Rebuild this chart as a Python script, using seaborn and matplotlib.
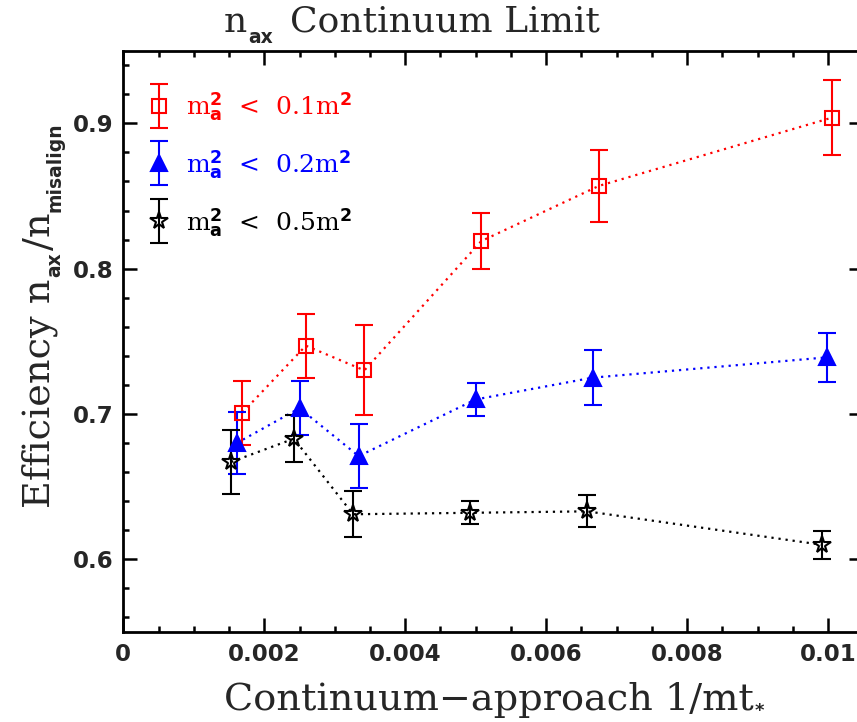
import matplotlib
matplotlib.use("Agg")
import matplotlib.pyplot as plt
from matplotlib.container import ErrorbarContainer
from matplotlib.legend_handler import HandlerErrorbar
from matplotlib.ticker import MultipleLocator, FuncFormatter
import pandas as pd
import seaborn as sns

# Efficiency vs continuum-approach parameter for three axion-mass cuts
x_01 = [0.00169, 0.00259, 0.00342, 0.00508, 0.00675, 0.01006]
y_01 = [0.701, 0.747, 0.730, 0.819, 0.857, 0.904]
e_01 = [0.022, 0.022, 0.031, 0.019, 0.025, 0.0255]

x_02 = [0.00161, 0.00250, 0.00334, 0.00500, 0.00666, 0.00999]
y_02 = [0.680, 0.704, 0.671, 0.710, 0.725, 0.739]
e_02 = [0.0216, 0.0184, 0.022, 0.0115, 0.019, 0.0168]

x_05 = [0.00153, 0.00242, 0.00326, 0.00492, 0.00658, 0.00991]
y_05 = [0.667, 0.683, 0.631, 0.632, 0.633, 0.610]
e_05 = [0.022, 0.016, 0.0157, 0.008, 0.011, 0.0098]

labels = [r"m$^\mathsf{2}_\mathsf{a}$  <  0.1m$^\mathsf{2}$",
          r"m$^\mathsf{2}_\mathsf{a}$  <  0.2m$^\mathsf{2}$",
          r"m$^\mathsf{2}_\mathsf{a}$  <  0.5m$^\mathsf{2}$"]
colors = ["#ff0000", "#0000ff", "#000000"]
markers = ["s", "^", "*"]
faces = ["none", "#0000ff", "none"]
sizes = [10, 11, 13]

x_ticks = [0, 0.002, 0.004, 0.006, 0.008, 0.01]
y_ticks = [0.6, 0.7, 0.8, 0.9]

W, H = 857, 722
SERIF = "DejaVu Serif"
SANS = "DejaVu Sans"

sns.set_theme(style="ticks")
plt.rcParams["font.family"] = [SERIF]
plt.rcParams["mathtext.fontset"] = "custom"
plt.rcParams["mathtext.rm"] = SERIF
plt.rcParams["mathtext.it"] = SERIF
plt.rcParams["mathtext.bf"] = SERIF + ":bold"
plt.rcParams["mathtext.sf"] = SANS + ":bold"

fig = plt.figure(figsize=(W / 100, H / 100), dpi=100)
ax = fig.add_axes([0.1439, 0.1247, 0.8635, 0.8051])

series = [(x_01, y_01, e_01), (x_02, y_02, e_02), (x_05, y_05, e_05)]
handles = []
for (xs, ys, es), lab, col, mk, fc, ms in zip(series, labels, colors, markers, faces, sizes):
    df = pd.DataFrame({"x": xs, "y": ys})
    sns.lineplot(data=df, x="x", y="y", ax=ax, color=col, lw=1.6,
                 linestyle=(0, (1, 2.2)), legend=False, zorder=2)
    h = ax.errorbar(xs, ys, yerr=es, fmt=mk, linestyle="none", color=col,
                    mfc=fc, mec=col, mew=1.5, ms=ms, elinewidth=1.5,
                    capsize=6.5, capthick=1.5, label=lab, zorder=3)
    handles.append(h)

ax.set_xlim(0, 0.0105)
ax.set_ylim(0.55, 0.95)
ax.set_xticks(x_ticks)
ax.set_yticks(y_ticks)
ax.xaxis.set_minor_locator(MultipleLocator(0.0005))
ax.yaxis.set_minor_locator(MultipleLocator(0.02))
ax.xaxis.set_major_formatter(FuncFormatter(lambda v, p: "0" if v == 0 else f"{v:g}"))
ax.yaxis.set_major_formatter(FuncFormatter(lambda v, p: f"{v:.1f}"))
ax.set_xlabel("")
ax.set_ylabel("")

for s in ax.spines.values():
    s.set_linewidth(2.0)
    s.set_color("black")
ax.tick_params(which="both", direction="in", top=True, right=True,
               color="black", width=1.8)
ax.tick_params(which="major", length=10)
ax.tick_params(axis="x", which="major", pad=8)
ax.tick_params(axis="y", which="major", pad=7)
ax.tick_params(which="minor", length=4.5)
for t in ax.get_xticklabels() + ax.get_yticklabels():
    t.set_fontfamily(SANS)
    t.set_fontweight("bold")
    t.set_fontsize(16.5)

leg = ax.legend(handles=handles, labels=labels, loc="upper left",
                bbox_to_anchor=(0.029, 0.932), frameon=False, fontsize=18,
                numpoints=1, handlelength=1.13, handletextpad=0.52,
                labelspacing=0.99, borderpad=0, borderaxespad=0,
                handler_map={ErrorbarContainer: HandlerErrorbar(yerr_size=0.88)})
for txt, col in zip(leg.get_texts(), colors):
    txt.set_color(col)

renderer = fig.canvas.get_renderer()


def rich_text(center, base, pieces, rotation=0):
    """Lay out text runs with their own font, size and baseline shift.

    center: pixel position of the run's midpoint along the writing direction.
    base:   pixel position of the main baseline across the writing direction.
    pieces: (text, size, family, weight, shift_px, gap_before_px).
    """
    arts, pos = [], 0.0
    for s, size, fam, weight, shift, gap in pieces:
        pos += gap
        t = fig.text(0, 0, s, fontsize=size, family=fam, weight=weight,
                     ha="left", va="baseline", rotation=rotation,
                     rotation_mode="anchor")
        bb = t.get_window_extent(renderer)
        arts.append((t, pos, shift))
        pos += bb.width if rotation == 0 else bb.height
    start = center - pos / 2
    for t, p, shift in arts:
        if rotation == 0:
            t.set_position(((start + p) / W, (base + shift) / H))
        else:
            t.set_position(((base - shift) / W, (start + p) / H))
    return arts


# title
rich_text(412, H - 32, [
    ("n", 26, SERIF, "normal", 0, 0),
    ("ax", 13.5, SANS, "bold", -11, 1),
    ("Continuum Limit", 26, SERIF, "normal", 0, 17),
])

# x-axis label
rich_text(494, H - 710, [
    ("Continuum\u2212approach 1/mt", 27.5, SERIF, "normal", 0, 0),
    ("*", 13, SANS, "bold", -6, 1),
])

# y-axis label (reads bottom to top)
rich_text(H - 315, 50, [
    ("Efficiency n", 27.5, SERIF, "normal", 0, 0),
    ("ax", 13.5, SANS, "bold", -10, 1),
    ("/n", 27.5, SERIF, "normal", 0, 2),
    ("misalign", 13.5, SANS, "bold", -10, 1),
], rotation=90)

fig.savefig("out.png", dpi=100)
